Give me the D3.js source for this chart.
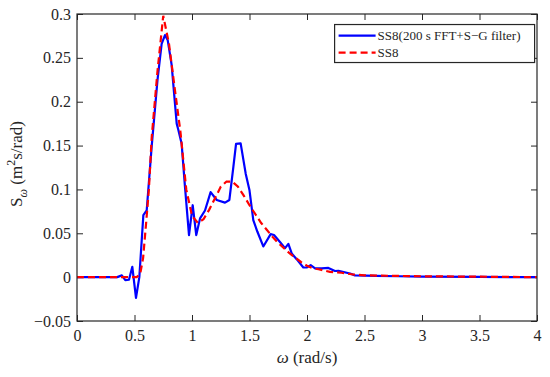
<!DOCTYPE html>
<html>
<head>
<meta charset="utf-8">
<script src="https://cdn.jsdelivr.net/npm/d3@7"></script>
</head>
<body style="margin:0; background:#fff">
<div id="spectrum"></div>
<script>
// blue: SS8 (200 s FFT + S-G filter)
const omegaFilt = [0, 0.1, 0.2, 0.3, 0.35, 0.39, 0.42, 0.452, 0.481, 0.513, 0.542, 0.577, 0.606, 0.65, 0.70, 0.736, 0.765, 0.789, 0.823, 0.867, 0.881, 0.910, 0.939, 0.974, 1.006, 1.037, 1.07, 1.113, 1.162, 1.215, 1.287, 1.325, 1.36, 1.383, 1.423, 1.467, 1.50, 1.533, 1.568, 1.62, 1.684, 1.713, 1.765, 1.809, 1.838, 1.867, 1.91, 1.968, 1.997, 2.032, 2.07, 2.128, 2.186, 2.243, 2.273, 2.374, 2.417, 2.6, 2.8, 3.0, 3.5, 4.0];
const sFilt = [0, 0, 0, 0, 0, 0.002, -0.0035, -0.003, 0.0118, -0.0236, 0, 0.0707, 0.076, 0.15, 0.225, 0.266, 0.276, 0.270, 0.242, 0.175, 0.168, 0.152, 0.103, 0.048, 0.082, 0.048, 0.067, 0.076, 0.097, 0.088, 0.085, 0.088, 0.126, 0.152, 0.1525, 0.118, 0.099, 0.065, 0.052, 0.035, 0.049, 0.048, 0.040, 0.033, 0.038, 0.027, 0.0205, 0.011, 0.011, 0.0137, 0.010, 0.010, 0.0105, 0.007, 0.0072, 0.0042, 0.002, 0.0015, 0.001, 0.0005, 0.0002, 0];

// red dashed: SS8
const omegaSS8 = [0, 0.25, 0.5, 0.52, 0.55, 0.575, 0.6, 0.625, 0.65, 0.7, 0.75, 0.8, 0.85, 0.9, 0.95, 1.0, 1.05, 1.1, 1.15, 1.2, 1.25, 1.3, 1.35, 1.4, 1.45, 1.5, 1.55, 1.6, 1.65, 1.7, 1.75, 1.8, 1.85, 1.9, 1.95, 2.0, 2.05, 2.1, 2.2, 2.3, 2.4, 2.5, 3.0, 3.5, 4.0];
const sSS8 = [0, 0, 0, 0, 0.004, 0.022, 0.06, 0.1, 0.16, 0.235, 0.298, 0.266, 0.215, 0.165, 0.1, 0.07, 0.062, 0.066, 0.077, 0.09, 0.103, 0.109, 0.109, 0.103, 0.093, 0.082, 0.072, 0.062, 0.054, 0.046, 0.039, 0.033, 0.027, 0.022, 0.017, 0.013, 0.010, 0.009, 0.006, 0.005, 0.003, 0.002, 0.001, 0.0005, 0];

const xTicks = [0, 0.5, 1, 1.5, 2, 2.5, 3, 3.5, 4];
const yTicks = [-0.05, 0, 0.05, 0.1, 0.15, 0.2, 0.25, 0.3];
const seriesNames = ["SS8(200 s FFT+S\u2212G filter)", "SS8"];

{
    const margin = {top: 14, right: 13, bottom: 56, left: 77},
    width = 550 - margin.left - margin.right,
    height = 377 - margin.top - margin.bottom;
    const axisColor = "#262626";
    const serif = "Liberation Serif";

    const svg = d3.select("#spectrum")
        .append("svg")
        .attr("width", 550)
        .attr("height", 377)
        .attr("font-family", serif)
        .append("g")
        .attr("transform", `translate(${margin.left},${margin.top})`);

    const x = d3.scaleLinear().domain([0, 4]).range([0, width]);
    const y = d3.scaleLinear().domain([-0.05, 0.3]).range([height, 0]);

    const fmt = d => (d < 0 ? "\u2212" : "") + d3.format("")(Math.abs(+d.toFixed(2)));

    // axes with inward ticks (MATLAB style)
    const styleAxis = g => {
        g.attr("font-family", serif).attr("font-size", 16);
        g.select(".domain").remove();
        g.selectAll(".tick line").attr("stroke", axisColor);
        g.selectAll(".tick text")
            .attr("font-family", serif)
            .attr("font-size", 16)
            .attr("fill", axisColor);
    };
    svg.append("g")
        .attr("transform", `translate(0,${height})`)
        .call(d3.axisBottom(x).tickValues(xTicks).tickSize(-6).tickPadding(9).tickFormat(fmt))
        .call(styleAxis);
    svg.append("g")
        .call(d3.axisLeft(y).tickValues(yTicks).tickSize(-6).tickPadding(6).tickFormat(fmt))
        .call(styleAxis);
    svg.append("g")
        .call(d3.axisTop(x).tickValues(xTicks).tickSize(-6).tickFormat(""))
        .call(styleAxis);
    svg.append("g")
        .attr("transform", `translate(${width},0)`)
        .call(d3.axisRight(y).tickValues(yTicks).tickSize(-6).tickFormat(""))
        .call(styleAxis);

    const line = d3.line().x(d => x(d[0])).y(d => y(d[1]));

    svg.append("path")
        .datum(d3.zip(omegaFilt, sFilt))
        .attr("fill", "none")
        .attr("stroke", "#0000ff")
        .attr("stroke-width", 2.2)
        .attr("stroke-linejoin", "round")
        .attr("d", line);

    svg.append("path")
        .datum(d3.zip(omegaSS8, sSS8))
        .attr("fill", "none")
        .attr("stroke", "#ff0000")
        .attr("stroke-width", 2.2)
        .attr("stroke-dasharray", "7,4")
        .attr("d", line);

    // box
    svg.append("rect")
        .attr("width", width).attr("height", height)
        .attr("fill", "none")
        .attr("stroke", axisColor)
        .attr("stroke-width", 1.2);

    // legend
    const lg = svg.append("g").attr("transform", `translate(${x(2.24)},${y(0.288)})`);
    lg.append("rect")
        .attr("width", 200).attr("height", 38)
        .attr("fill", "#fff")
        .attr("stroke", axisColor)
        .attr("stroke-width", 1.2);
    const colors = ["#0000ff", "#ff0000"];
    const dashes = [null, "7,4"];
    seriesNames.forEach((name, i) => {
        const yy = 11 + i * 17;
        lg.append("line")
            .attr("x1", 4).attr("x2", 41)
            .attr("y1", yy).attr("y2", yy)
            .attr("stroke", colors[i])
            .attr("stroke-width", 2.2)
            .attr("stroke-dasharray", dashes[i]);
        lg.append("text")
            .attr("x", 43).attr("y", yy)
            .attr("dy", "0.35em")
            .attr("font-family", serif)
            .attr("font-size", 13)
            .attr("fill", axisColor)
            .text(name);
    });

    // x label
    const xl = svg.append("text")
        .attr("text-anchor", "middle")
        .attr("x", x(2))
        .attr("y", height + 42)
        .attr("font-family", serif)
        .attr("fill", axisColor)
        .attr("font-size", 17);
    xl.append("tspan").attr("font-style", "italic").text("\u03c9");
    xl.append("tspan").text(" (rad/s)");

    // y label
    const yl = svg.append("text")
        .attr("text-anchor", "middle")
        .attr("transform", `translate(${-55},${150}) rotate(-90)`)
        .attr("font-family", serif)
        .attr("fill", axisColor)
        .attr("font-size", 17);
    yl.append("tspan").text("S");
    yl.append("tspan").attr("font-style", "italic").attr("font-size", 12).attr("dy", 5).text("\u03c9");
    yl.append("tspan").attr("dy", -5).text(" (m");
    yl.append("tspan").attr("font-size", 12).attr("dy", -7).text("2");
    yl.append("tspan").attr("dy", 7).text("s/rad)");
}
</script>
</body>
</html>
